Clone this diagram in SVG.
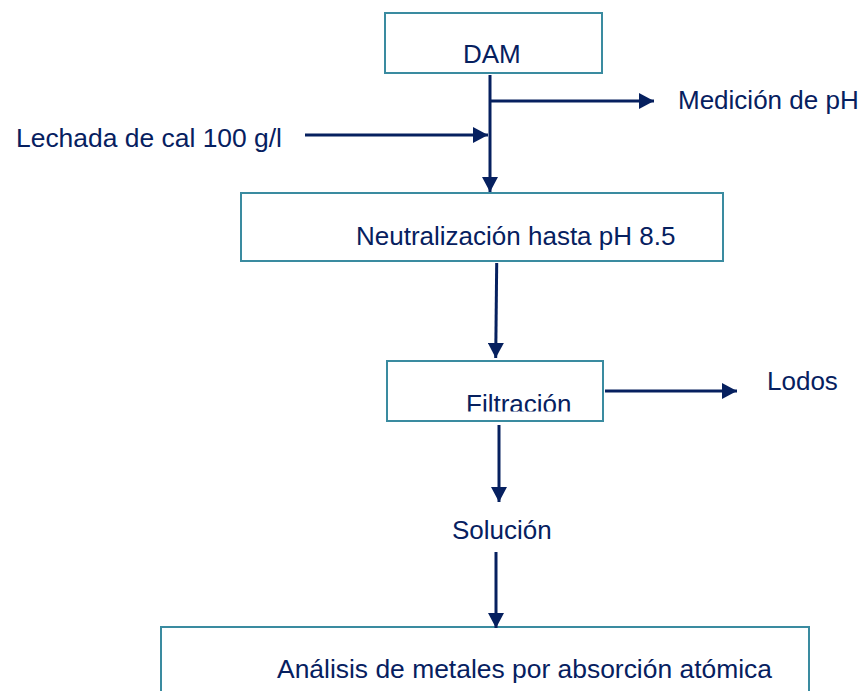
<svg xmlns="http://www.w3.org/2000/svg" width="867" height="691" viewBox="0 0 867 691">
<style>
.box{fill:#fff;stroke:#3a8ba0;stroke-width:2}
.t{font-family:"Liberation Sans",Arial,sans-serif;font-size:26px;fill:#06205f}
.c{stroke:#06205f;stroke-width:3;fill:none;marker-end:url(#ah)}
</style>
<defs>
<marker id="ah" markerUnits="userSpaceOnUse" markerWidth="16" markerHeight="16" refX="15" refY="8" orient="auto">
<path d="M0,0 L15,8 L0,16 Z" fill="#06205f"/>
</marker>
<clipPath id="fclip"><rect x="380" y="360" width="230" height="51.5"/></clipPath>
</defs>
<rect width="867" height="691" fill="#fff"/>
<g id="dam"><rect class="box" x="385" y="13" width="217" height="60"/><text class="t" x="463" y="63">DAM</text></g>
<g id="neutralizacion"><rect class="box" x="241" y="193" width="482" height="68"/><text class="t" x="356" y="245">Neutralización hasta pH 8.5</text></g>
<g id="filtracion"><rect class="box" x="387" y="361" width="216" height="60"/><text class="t" x="466" y="412.5" clip-path="url(#fclip)">Filtración</text></g>
<g id="analisis"><rect class="box" x="161" y="627" width="648" height="90"/><text class="t" x="277" y="678" textLength="495" lengthAdjust="spacingAndGlyphs">Análisis de metales por absorción atómica</text></g>
<g id="lechada"><text class="t" x="16" y="147" textLength="266" lengthAdjust="spacingAndGlyphs">Lechada de cal 100 g/l</text></g>
<g id="medicion"><text class="t" x="678" y="109">Medición de pH</text></g>
<g id="lodos"><text class="t" x="767" y="390">Lodos</text></g>
<g id="solucion"><text class="t" x="452" y="539">Solución</text></g>
<g id="connectors">
<path class="c" d="M490,75 V192"/>
<path class="c" d="M490,101 H654"/>
<path class="c" d="M305,135 H488"/>
<path class="c" d="M496.7,263 L495.7,358"/>
<path class="c" d="M605,391 H737"/>
<path class="c" d="M499,425 V502"/>
<path class="c" d="M496,552 V628"/>
</g>
</svg>
